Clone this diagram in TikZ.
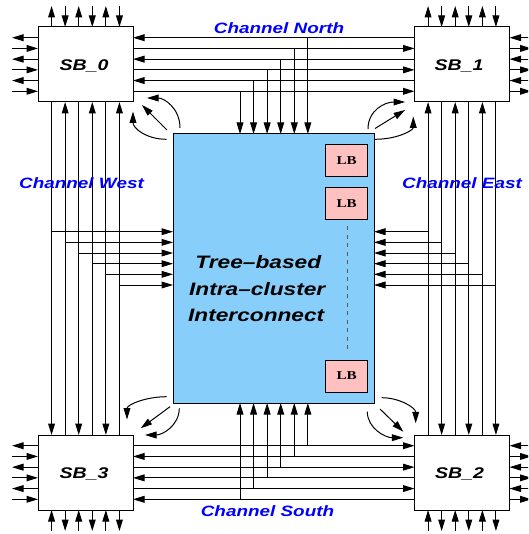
\documentclass[tikz,border=0pt]{standalone}
\usepackage{fontspec}
\setmainfont{Liberation Sans}
\newfontfamily\lbfamily{Liberation Serif}
\usepackage{graphicx}
\usetikzlibrary{arrows.meta,calc}
\definecolor{corefill}{RGB}{135,206,250}
\definecolor{lbfill}{RGB}{255,192,192}
\definecolor{chblue}{RGB}{0,0,255}
\newcommand{\hstr}[1]{\scalebox{1.26}[1]{#1}}
\newcommand{\chfont}{\fontsize{15}{18}\selectfont\bfseries\itshape}
\newcommand{\sbfont}{\fontsize{15.5}{18}\selectfont\bfseries\itshape}
\newcommand{\corefont}{\fontsize{18}{20}\selectfont\bfseries\itshape}
\newcommand{\lbtext}{\lbfamily\fontsize{12}{14}\selectfont\bfseries}
\begin{document}
\begin{tikzpicture}[x=1pt,y=-1pt,
  sbbox/.style={draw=black, line width=1pt, rectangle, inner sep=0pt, outer sep=0pt,
    minimum width=95pt, minimum height=75pt, fill=white},
  corebox/.style={draw=black, line width=1pt, rectangle, inner sep=0pt, outer sep=0pt,
    minimum width=201pt, minimum height=269pt, fill=corefill},
  lbbox/.style={draw=black, line width=1pt, rectangle, inner sep=0pt, outer sep=0pt,
    minimum width=42pt, minimum height=32pt, fill=lbfill, font=\lbtext},
  wire/.style={line width=1pt, draw=black},
  arr/.style={wire, -{Triangle[length=11.5pt,width=6.8pt]}},
  chlabel/.style={anchor=base, inner sep=0pt, text=chblue, font=\chfont},
  sblabel/.style={anchor=base, inner sep=0pt, font=\sbfont},
  corelabel/.style={anchor=base, inner sep=0pt, font=\corefont},
  lbdash/.style={line width=0.9pt, draw=black!65, dash pattern=on 4pt off 4.5pt}
]
\useasboundingbox (0,0) rectangle (528,534);
\fill[white] (0,0) rectangle (528,534);
\clip (0,0) rectangle (528,534);

% boxes
\node[sbbox] (sb0) at (85.5,64.5) {};
\node[sbbox] (sb1) at (462,64.5) {};
\node[sbbox] (sb3) at (85.5,472.5) {};
\node[sbbox] (sb2) at (462,472.5) {};
\node[corebox] (core) at (273.5,268.5) {};

% helper coordinates
\foreach \k in {1,...,6}{
  \pgfmathsetmacro{\yn}{27+75*\k/7}
  \pgfmathsetmacro{\ys}{435+75*\k/7}
  \pgfmathsetmacro{\xw}{38+95*\k/7}
  \pgfmathsetmacro{\xe}{414.5+95*\k/7}
  \pgfmathsetmacro{\yf}{231.7+10.66*(\k-1)}
  \coordinate (rn\k) at (0,\yn);
  \coordinate (rs\k) at (0,\ys);
  \coordinate (cw\k) at (\xw,0);
  \coordinate (ce\k) at (\xe,0);
  \coordinate (fr\k) at (0,\yf);
}
\foreach \j in {0,...,5}{
  \pgfmathsetmacro{\xd}{240+13.57*\j}
  \coordinate (dx\j) at (\xd,0);
}

% channels
\foreach \k in {1,3,5}{
  \draw[arr] (sb1.west |- rn\k) -- (sb0.east |- rn\k);
  \draw[arr] (sb3.east |- rs\k) -- (sb2.west |- rs\k);
  \draw[arr] (sb0.south -| cw\k) -- (sb3.north -| cw\k);
  \draw[arr] (sb2.north -| ce\k) -- (sb1.south -| ce\k);
  % stubs
  \draw[arr] (sb0.north -| cw\k) -- ($(sb0.north -| cw\k)+(0,-21)$);
  \draw[arr] (sb1.north -| ce\k) -- ($(sb1.north -| ce\k)+(0,-21)$);
  \draw[arr] ($(sb3.south -| cw\k)+(0,21)$) -- (sb3.south -| cw\k);
  \draw[arr] ($(sb2.south -| ce\k)+(0,21)$) -- (sb2.south -| ce\k);
  \draw[arr] (sb0.west |- rn\k) -- ($(sb0.west |- rn\k)+(-26,0)$);
  \draw[arr] (sb3.west |- rs\k) -- ($(sb3.west |- rs\k)+(-26,0)$);
  \draw[arr] ($(sb1.east |- rn\k)+(22,0)$) -- (sb1.east |- rn\k);
  \draw[arr] ($(sb2.east |- rs\k)+(22,0)$) -- (sb2.east |- rs\k);
}
\foreach \k in {2,4,6}{
  \draw[arr] (sb0.east |- rn\k) -- (sb1.west |- rn\k);
  \draw[arr] (sb2.west |- rs\k) -- (sb3.east |- rs\k);
  \draw[arr] (sb3.north -| cw\k) -- (sb0.south -| cw\k);
  \draw[arr] (sb1.south -| ce\k) -- (sb2.north -| ce\k);
  % stubs
  \draw[arr] ($(sb0.north -| cw\k)+(0,-21)$) -- (sb0.north -| cw\k);
  \draw[arr] ($(sb1.north -| ce\k)+(0,-21)$) -- (sb1.north -| ce\k);
  \draw[arr] (sb3.south -| cw\k) -- ($(sb3.south -| cw\k)+(0,21)$);
  \draw[arr] (sb2.south -| ce\k) -- ($(sb2.south -| ce\k)+(0,21)$);
  \draw[arr] ($(sb0.west |- rn\k)+(-26,0)$) -- (sb0.west |- rn\k);
  \draw[arr] ($(sb3.west |- rs\k)+(-26,0)$) -- (sb3.west |- rs\k);
  \draw[arr] (sb1.east |- rn\k) -- ($(sb1.east |- rn\k)+(22,0)$);
  \draw[arr] (sb2.east |- rs\k) -- ($(sb2.east |- rs\k)+(22,0)$);
}

% drops into the cluster from north and south
\foreach \j in {0,...,5}{
  \pgfmathtruncatemacro{\r}{6-\j}
  \draw[arr] (rn\r -| dx\j) -- (core.north -| dx\j);
  \draw[arr] (rs\r -| dx\j) -- (core.south -| dx\j);
}
% feeders from west and east
\foreach \k in {1,...,6}{
  \draw[arr] (cw\k |- fr\k) -- (core.west |- fr\k);
  \draw[arr] (ce\k |- fr\k) -- (core.east |- fr\k);
}

% corner arrows
\draw[arr] (180,128) .. controls (180,108) and (164,98) .. (147,98);
\draw[arr] (167,130) -- (142,105);
\draw[arr] (166.5,139.3) .. controls (146,139.3) and (133,128) .. (133,111.5);

\draw[arr] (368,129) .. controls (368,110) and (385,102) .. (405,102);
\draw[arr] (375,128.5) -- (405,110);
\draw[arr] (375,139.3) .. controls (398,139.3) and (413.3,130) .. (413.3,116.5);

\draw[arr] (166.7,396.7) .. controls (145,396.7) and (127,405) .. (127,419.5);
\draw[arr] (170,406.7) -- (140.7,428.3);
\draw[arr] (179.3,408.3) .. controls (179.3,425) and (163,435) .. (145,435);

\draw[arr] (381.7,397.7) .. controls (400,397.7) and (415.7,408) .. (415.7,423.3);
\draw[arr] (380,409) -- (403.3,431.7);
\draw[arr] (367.3,411.7) .. controls (367.3,428) and (385,437.7) .. (403.3,437.7);

% logic blocks
\node[lbbox] (lb1) at (346.7,161) {\hstr{LB}};
\node[lbbox] (lb2) at (346.7,204) {\hstr{LB}};
\node[lbbox] (lb3) at (346.7,376) {\hstr{LB}};
\draw[lbdash] ($(lb2.south)+(1,6)$) -- ($(lb3.north)+(1,-10)$);

% labels
\node[sblabel] (l0) at (84,70.5) {\hstr{SB\_0}};
\node[sblabel] (l1) at (459,70.5) {\hstr{SB\_1}};
\node[sblabel] (l3) at (84,478.3) {\hstr{SB\_3}};
\node[sblabel] (l2) at (459.5,478.3) {\hstr{SB\_2}};

\node[chlabel] (cn) at (279,33.3) {\hstr{Channel North}};
\node[chlabel] (cwl) at (81.5,188.3) {\hstr{Channel West}};
\node[chlabel] (cel) at (462,188.3) {\hstr{Channel East}};
\node[chlabel] (cs) at (267.5,516.7) {\hstr{Channel South}};

\node[corelabel] (t1) at (258.3,268.3) {\hstr{Tree\textendash based}};
\node[corelabel] (t2) at (257.2,295) {\hstr{Intra\textendash cluster}};
\node[corelabel] (t3) at (256.2,321.7) {\hstr{Interconnect}};
\end{tikzpicture}
\end{document}
